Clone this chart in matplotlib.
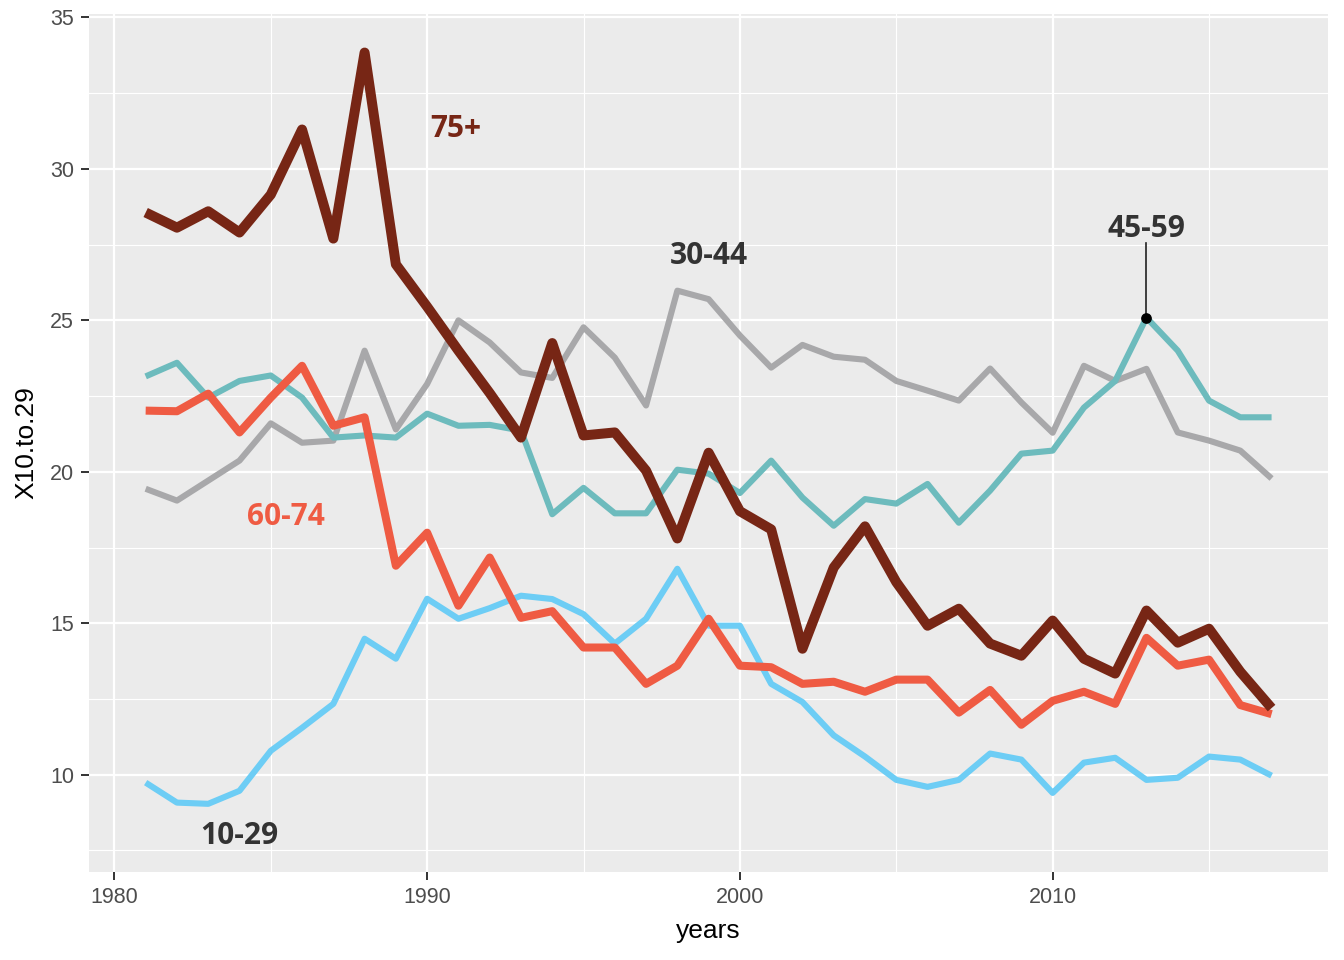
import numpy as np
import matplotlib
matplotlib.use("Agg")
import matplotlib.pyplot as plt
from matplotlib.ticker import MultipleLocator

# data
years = np.arange(1981, 2018)

age_10_29 = [9.74, 9.08, 9.04, 9.47, 10.79, 11.55, 12.34, 14.49, 13.83, 15.81,
             15.15, 15.5, 15.91, 15.8, 15.3, 14.33, 15.15, 16.8, 14.92, 14.92,
             13.0, 12.4, 11.3, 10.6, 9.83, 9.6, 9.83, 10.7, 10.5, 9.4,
             10.4, 10.56, 9.83, 9.9, 10.6, 10.5, 9.97]
age_30_44 = [19.44, 19.05, 19.71, 20.37, 21.6, 20.96, 21.03, 24.0, 21.4, 22.9,
             25.0, 24.27, 23.28, 23.1, 24.77, 23.77, 22.19, 25.98, 25.7, 24.5,
             23.44, 24.19, 23.8, 23.7, 23.0, 22.68, 22.35, 23.41, 22.29, 21.29,
             23.5, 23.0, 23.4, 21.3, 21.03, 20.7, 19.78]
age_45_59 = [23.15, 23.6, 22.45, 23.0, 23.18, 22.45, 21.13, 21.2, 21.13, 21.92,
             21.52, 21.55, 21.36, 18.6, 19.47, 18.63, 18.63, 20.07, 19.94, 19.3,
             20.37, 19.15, 18.22, 19.1, 18.95, 19.6, 18.32, 19.38, 20.6, 20.7,
             22.12, 23.0, 25.09, 24.0, 22.35, 21.8, 21.8]
age_60_74 = [22.02, 22.0, 22.58, 21.3, 22.45, 23.5, 21.52, 21.8, 16.9, 17.99,
             15.58, 17.17, 15.18, 15.4, 14.2, 14.2, 13.0, 13.6, 15.15, 13.6,
             13.55, 13.0, 13.07, 12.74, 13.14, 13.14, 12.05, 12.8, 11.65, 12.44,
             12.74, 12.34, 14.52, 13.6, 13.8, 12.3, 12.0]
age_75_plus = [28.56, 28.06, 28.6, 27.9, 29.15, 31.3, 27.7, 33.84, 26.85, 25.45,
               24.0, 22.6, 21.13, 24.25, 21.2, 21.3, 20.04, 17.8, 20.63, 18.7,
               18.1, 14.16, 16.84, 18.2, 16.36, 14.92, 15.48, 14.33, 13.93, 15.09,
               13.83, 13.34, 15.42, 14.36, 14.82, 13.4, 12.2]

label_text = ["10-29", "30-44", "45-59", "60-74", "75+"]
label_x = [1984.0, 1999.0, 2013.0, 1985.5, 1990.9]
label_y = [7.99, 27.14, 28.03, 18.5, 31.33]

fig = plt.figure(figsize=(13.44, 9.6), dpi=100)
ax = fig.add_axes([0.0665, 0.092, 0.9215, 0.893])
ax.set_facecolor("#EBEBEB")

line_kw = dict(solid_joinstyle="round", solid_capstyle="butt")
# draw order: grey, teal, blue, red, brown on top
ax.plot(years, age_30_44, color="#A8A8AA", lw=4.4, zorder=3, **line_kw)
ax.plot(years, age_45_59, color="#6DBBBD", lw=4.4, zorder=4, **line_kw)
ax.plot(years, age_10_29, color="#6DCDF5", lw=4.4, zorder=5, **line_kw)
ax.plot(years, age_60_74, color="#EF5B43", lw=5.8, zorder=6, **line_kw)
ax.plot(years, age_75_plus, color="#772615", lw=7.2, zorder=7, **line_kw)

# pointer for the 45-59 peak
peak = age_45_59[list(years).index(2013)]
ax.plot([2013, 2013], [peak, 27.57], color="#222222", lw=1.2, zorder=8)
ax.scatter([2013], [peak], s=45, color="black", zorder=9)

label_col = ["#333333", "#333333", "#333333", "#EF5B43", "#772615"]
for t, x, y, c in zip(label_text, label_x, label_y, label_col):
    ax.text(x, y, t, color=c, fontsize=21.5, fontweight="bold",
            family=["Open Sans", "DejaVu Sans"], ha="center", va="center", zorder=10)

ax.set_xlim(1979.2, 2018.8)
ax.set_ylim(6.8, 35.1)
ax.xaxis.set_major_locator(MultipleLocator(10))
ax.xaxis.set_minor_locator(MultipleLocator(5))
ax.yaxis.set_major_locator(MultipleLocator(5))
ax.yaxis.set_minor_locator(MultipleLocator(2.5))
ax.grid(which="major", color="white", lw=1.6, zorder=0)
ax.grid(which="minor", color="white", lw=0.8, zorder=0)
ax.set_axisbelow(True)
for s in ax.spines.values():
    s.set_visible(False)

ax.tick_params(which="major", length=6, width=1.4, color="#333333",
               labelsize=15.5, labelcolor="#4D4D4D", pad=5)
ax.tick_params(which="minor", length=0)
for lab in ax.get_xticklabels() + ax.get_yticklabels():
    lab.set_family(["Liberation Sans", "DejaVu Sans"])

ax.set_xlabel("years", fontsize=19, family=["Liberation Sans", "DejaVu Sans"], labelpad=8)
ax.set_ylabel("X10.to.29", fontsize=19, family=["Liberation Sans", "DejaVu Sans"], labelpad=8)

fig.savefig("out.png", dpi=100)
